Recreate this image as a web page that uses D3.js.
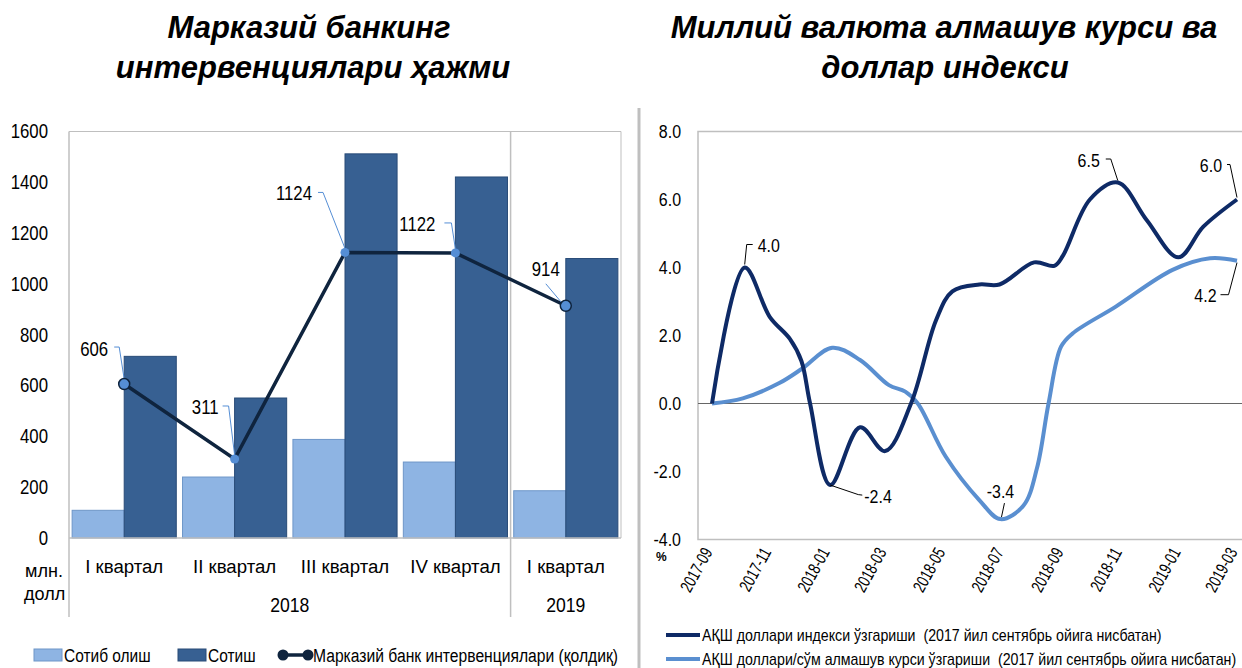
<!DOCTYPE html>
<html>
<head>
<meta charset="utf-8">
<script src="https://cdn.jsdelivr.net/npm/d3@7"></script>
<style>
    body { margin: 0; background: #fff; }
    svg text { font-family: "Liberation Sans", Arial, sans-serif; fill: #000; }
</style>
</head>
<body>
<svg id="chart" width="1242" height="668"></svg>
<script>
// ---- данные: интервенции (млн. долл)
const quarters = ['I квартал', 'II квартал', 'III квартал', 'IV квартал', 'I квартал'];
const years = [{ name: '2018', from: 0, to: 3 }, { name: '2019', from: 4, to: 4 }];
const buying = [109, 240, 388, 299, 186];
const selling = [715, 551, 1512, 1421, 1100];
const netInterv = [606, 311, 1124, 1122, 914];
const leftTicks = [0, 200, 400, 600, 800, 1000, 1200, 1400, 1600];

// ---- данные: индекс доллара и курс (%)
const monthTicks = ['2017-09', '2017-11', '2018-01', '2018-03', '2018-05', '2018-07', '2018-09', '2018-11', '2019-01', '2019-03'];
const dxyDates = ['2017-09-01', '2017-10-05', '2017-10-31', '2017-11-21', '2017-12-03', '2017-12-12', '2018-01-02', '2018-02-02',
    '2018-02-28', '2018-03-27', '2018-04-22', '2018-05-09', '2018-06-06', '2018-06-27', '2018-08-02', '2018-08-23',
    '2018-09-01', '2018-09-29', '2018-10-28', '2018-11-27', '2018-12-30', '2019-01-25', '2019-03-01'];
const dxyValues = [0.0, 4.0, 2.55, 1.9, 1.25, 0.0, -2.4, -0.7,
    -1.4, 0.0, 2.45, 3.3, 3.5, 3.5, 4.15, 4.05,
    4.35, 6.0, 6.5, 5.4, 4.3, 5.2, 6.0];
const uzsDates = ['2017-09-01', '2017-10-03', '2017-11-10', '2017-12-04', '2018-01-04', '2018-02-02', '2018-03-04', '2018-03-21',
    '2018-04-03', '2018-05-02', '2018-06-06', '2018-06-28', '2018-07-22', '2018-08-05', '2018-08-17', '2018-08-30',
    '2018-09-11', '2018-10-26', '2018-12-24', '2019-02-01', '2019-03-01'];
const uzsValues = [0.0, 0.15, 0.6, 1.03, 1.64, 1.28, 0.54, 0.35,
    0.0, -1.56, -2.84, -3.4, -3.0, -1.9, 0.0, 1.67,
    2.06, 2.85, 3.93, 4.27, 4.2];
const rightTicks = [-4, -2, 0, 2, 4, 6, 8];

const svg = d3.select('#chart');

// узкий шрифт: сжимаем текст по горизонтали через transform
const squeeze = (sel, k) => {
    sel.each(function () {
        let t = d3.select(this);
        let x = +t.attr('x') || 0, y = +t.attr('y') || 0;
        let prev = t.attr('transform') || '';
        t.attr('x', 0).attr('y', 0).attr('transform', `${prev} translate(${x},${y}) scale(${k},1)`);
    });
};

// ---- заголовки
const titleL = svg.append('text').attr('text-anchor', 'middle')
    .style('font-size', '31px').style('font-weight', 'bold').style('font-style', 'italic');
titleL.append('tspan').attr('x', 309).attr('y', 38).text('Марказий банкинг');
titleL.append('tspan').attr('x', 313).attr('y', 78).text('интервенциялари ҳажми');
const titleR = svg.append('text').attr('text-anchor', 'middle')
    .style('font-size', '31px').style('font-weight', 'bold').style('font-style', 'italic');
titleR.append('tspan').attr('x', 944).attr('y', 38).text('Миллий валюта алмашув курси ва');
titleR.append('tspan').attr('x', 945).attr('y', 78).text('доллар индекси');

// разделитель между графиками
svg.append('line').attr('x1', 639).attr('x2', 639).attr('y1', 108).attr('y2', 668)
    .attr('stroke', '#BFBFBF').attr('stroke-width', 3);

// ================= левый график
const left = svg.append('g').attr('id', 'left_warp');
const xL = d3.scaleBand().domain(d3.range(quarters.length)).range([69, 621]);
const xSub = d3.scaleBand().domain(['buy', 'sell']).range([0, xL.bandwidth()]).paddingOuter(0.06);
const yL = d3.scaleLinear().domain([0, 1600]).range([538, 131.5]);
const gridColor = '#BFBFBF';

// рамка
left.append('line').attr('x1', 69).attr('x2', 621).attr('y1', yL(1600)).attr('y2', yL(1600)).attr('stroke', gridColor);
left.append('line').attr('x1', 621).attr('x2', 621).attr('y1', yL(1600)).attr('y2', yL(0)).attr('stroke', gridColor);
[0, 4].forEach(i => {
    left.append('line').attr('x1', xL(i)).attr('x2', xL(i)).attr('y1', yL(1600)).attr('y2', 617)
        .attr('stroke', gridColor).attr('stroke-width', 1.5);
});

// столбцы
const barG = left.append('g').attr('class', 'bar_warp');
barG.selectAll('.buy').data(buying).enter().append('rect')
    .attr('class', 'buy')
    .attr('x', (d, i) => xL(i) + xSub('buy'))
    .attr('y', d => yL(d))
    .attr('width', xSub.bandwidth())
    .attr('height', d => yL(0) - yL(d))
    .attr('fill', '#8EB4E3').attr('stroke', '#6E96C8').attr('stroke-width', 1);
barG.selectAll('.sell').data(selling).enter().append('rect')
    .attr('class', 'sell')
    .attr('x', (d, i) => xL(i) + xSub('sell'))
    .attr('y', d => yL(d))
    .attr('width', xSub.bandwidth())
    .attr('height', d => yL(0) - yL(d))
    .attr('fill', '#376092').attr('stroke', '#284B77').attr('stroke-width', 1);

left.append('line').attr('x1', 69).attr('x2', 621).attr('y1', yL(0)).attr('y2', yL(0)).attr('stroke', gridColor).attr('stroke-width', 1.5);

// линия нетто-интервенций
const cx = i => xL(i) + xL.bandwidth() / 2;
left.append('path').datum(netInterv)
    .attr('d', d3.line().x((d, i) => cx(i)).y(d => yL(d)))
    .attr('fill', 'none').attr('stroke', '#0F243E').attr('stroke-width', 3.5);

// подписи значений: смещение текста и выноски
const netLabelPos = [
    { tx: -16, ty: -28, lead: [[-10, -37], [-5, -37], [0, -5]] },
    { tx: -16, ty: -45, lead: [[-12, -53], [-6, -53], [0, -4]] },
    { tx: -33, ty: -52, lead: [[-27, -60], [-22, -60], [0, -4]] },
    { tx: -20, ty: -22, lead: [[-11, -30], [-4, -30], [0, -4]] },
    { tx: -6, ty: -30, lead: [[-20, -22], [-4, -3]] }
];
netInterv.forEach((v, i) => {
    let p = netLabelPos[i];
    left.append('path')
        .attr('d', d3.line()(p.lead.map(q => [cx(i) + q[0], yL(v) + q[1]])))
        .attr('fill', 'none').attr('stroke', '#558ED5').attr('stroke-width', 1);
});
left.selectAll('.dot').data(netInterv).enter().append('circle')
    .attr('class', 'dot')
    .attr('cx', (d, i) => cx(i)).attr('cy', d => yL(d))
    .attr('r', (d, i) => (i === 0 || i === 4) ? 5.5 : 4.5)
    .attr('fill', '#558ED5')
    .attr('stroke', '#0F243E').attr('stroke-width', (d, i) => (i === 0 || i === 4) ? 1.5 : 0);
left.selectAll('.val').data(netInterv).enter().append('text')
    .attr('class', 'val')
    .attr('x', (d, i) => cx(i) + netLabelPos[i].tx)
    .attr('y', (d, i) => yL(d) + netLabelPos[i].ty)
    .attr('text-anchor', 'end')
    .style('font-size', '20px')
    .text(d => d)
    .call(squeeze, 0.84);

// ось Y
const yAxisL = left.append('g').attr('transform', 'translate(48,0)')
    .call(d3.axisLeft(yL).tickValues(leftTicks).tickSize(0).tickPadding(0).tickFormat(d3.format('d')));
yAxisL.select('.domain').remove();
yAxisL.selectAll('text').style('font-size', '20px').style('font-family', '"Liberation Sans", Arial, sans-serif')
    .attr('fill', '#000').call(squeeze, 0.84);

// подписи категорий
left.selectAll('.cat').data(quarters).enter().append('text')
    .attr('class', 'cat')
    .attr('x', (d, i) => cx(i)).attr('y', 572.5)
    .attr('text-anchor', 'middle').style('font-size', '19px')
    .text(d => d).call(squeeze, 0.98);
left.selectAll('.year').data(years).enter().append('text')
    .attr('class', 'year')
    .attr('x', d => (xL(d.from) + xL(d.to) + xL.bandwidth()) / 2).attr('y', 611.5)
    .attr('text-anchor', 'middle').style('font-size', '21px')
    .text(d => d.name).call(squeeze, 0.84);
left.append('text').attr('x', 25).attr('y', 577).style('font-size', '19px').text('млн.').call(squeeze, 0.95);
left.append('text').attr('x', 24).attr('y', 600).style('font-size', '19px').text('долл').call(squeeze, 0.95);

// легенда слева
const legL = left.append('g').attr('class', 'legend');
legL.append('rect').attr('x', 34).attr('y', 649).attr('width', 28).attr('height', 12)
    .attr('fill', '#8EB4E3').attr('stroke', '#6E96C8');
legL.append('text').attr('x', 64).attr('y', 662).style('font-size', '18px').text('Сотиб олиш').call(squeeze, 0.86);
legL.append('rect').attr('x', 178).attr('y', 649).attr('width', 28).attr('height', 12)
    .attr('fill', '#376092').attr('stroke', '#284B77');
legL.append('text').attr('x', 208).attr('y', 662).style('font-size', '18px').text('Сотиш').call(squeeze, 0.86);
legL.append('line').attr('x1', 283).attr('x2', 308).attr('y1', 655).attr('y2', 655)
    .attr('stroke', '#0F243E').attr('stroke-width', 3.5);
[283, 308].forEach(x => {
    legL.append('circle').attr('cx', x).attr('cy', 655).attr('r', 5.5).attr('fill', '#0F243E');
});
legL.append('text').attr('x', 313).attr('y', 662).style('font-size', '18px')
    .text('Марказий банк интервенциялари (қолдиқ)').call(squeeze, 0.87);

// ================= правый график
const right = svg.append('g').attr('id', 'right_warp');
const parseDay = d3.timeParse('%Y-%m-%d');
const parseMonth = d3.timeParse('%Y-%m');
const xR = d3.scaleTime().domain([parseMonth('2017-09'), parseMonth('2019-03')]).range([712, 1237]);
const yR = d3.scaleLinear().domain([-4, 8]).range([539.5, 131.5]);

// рамка: слева, сверху, снизу
right.append('path')
    .attr('d', `M1242,${yR(8)}H698V${yR(-4)}H1242`)
    .attr('fill', 'none').attr('stroke', gridColor).attr('stroke-width', 1.5);
right.append('line').attr('x1', 698).attr('x2', 1242).attr('y1', yR(0)).attr('y2', yR(0))
    .attr('stroke', '#666').attr('stroke-width', 1);

const dxy = dxyDates.map((d, i) => ({ date: parseDay(d), value: dxyValues[i] }));
const uzs = uzsDates.map((d, i) => ({ date: parseDay(d), value: uzsValues[i] }));
const lineR = d3.line().curve(d3.curveCatmullRom.alpha(0.5)).x(d => xR(d.date)).y(d => yR(d.value));
right.append('path').datum(uzs).attr('d', lineR)
    .attr('fill', 'none').attr('stroke', '#5A8FD0').attr('stroke-width', 4);
right.append('path').datum(dxy).attr('d', lineR)
    .attr('fill', 'none').attr('stroke', '#0E2A66').attr('stroke-width', 4);

// ось Y
const yAxisR = right.append('g').attr('transform', 'translate(681,0)')
    .call(d3.axisLeft(yR).tickValues(rightTicks).tickSize(0).tickPadding(0).tickFormat(d3.format('.1f')));
yAxisR.select('.domain').remove();
yAxisR.selectAll('text').style('font-size', '19px').style('font-family', '"Liberation Sans", Arial, sans-serif')
    .attr('fill', '#000').text(d => d3.format('.1f')(d).replace('−', '-')).call(squeeze, 0.84);
right.append('text').attr('x', 656).attr('y', 561).style('font-size', '12px').style('font-weight', 'bold').text('%');

// ось X (повёрнутые подписи)
right.selectAll('.xlab').data(monthTicks).enter().append('text')
    .attr('class', 'xlab')
    .attr('text-anchor', 'end')
    .attr('transform', d => `translate(${xR(parseMonth(d)) + 1}, 552) rotate(-61) scale(0.74,1)`)
    .style('font-size', '17.5px')
    .text(d => d);

// подписи значений
const rLabels = [
    { s: dxy, i: 1, anchor: 'start', tx: 13, ty: -16, lead: [[0, -3], [2, -23], [8, -23]] },
    { s: dxy, i: 6, anchor: 'start', tx: 34, ty: 18, lead: [[0, 0], [28, 9.5], [32, 10]] },
    { s: dxy, i: 18, anchor: 'end', tx: -18, ty: -16, lead: [[-12, -23.5], [-7, -23.5], [0, -2]] },
    { s: dxy, i: 22, anchor: 'end', tx: -15, ty: -27.5, lead: [[-10, -35], [-7, -35], [0, -2]] },
    { s: uzs, i: 11, anchor: 'middle', tx: 0, ty: -21, lead: [[1, -2], [4, -16]] },
    { s: uzs, i: 20, anchor: 'end', tx: -20.5, ty: 41, lead: [[-16.5, 34], [-8.5, 34], [0, 2]] }
];
rLabels.forEach(l => {
    let d = l.s[l.i];
    let px = xR(d.date), py = yR(d.value);
    right.append('path').attr('d', d3.line()(l.lead.map(q => [px + q[0], py + q[1]])))
        .attr('fill', 'none').attr('stroke', '#000').attr('stroke-width', 1);
    right.append('text').attr('x', px + l.tx).attr('y', py + l.ty)
        .attr('text-anchor', l.anchor).style('font-size', '19px')
        .text(d3.format('.1f')(d.value).replace('−', '-')).call(squeeze, 0.84);
});

// легенда справа
const legR = right.append('g').attr('class', 'legend');
const legItems = [
    { name: 'АҚШ доллари индекси ўзгариши  (2017 йил сентябрь ойига нисбатан)', color: '#0E2A66' },
    { name: 'АҚШ доллари/сўм алмашув курси ўзгариши  (2017 йил сентябрь ойига нисбатан)', color: '#5A8FD0' }
];
legItems.forEach((item, i) => {
    let y = 635 + i * 24;
    legR.append('line').attr('x1', 666).attr('x2', 700).attr('y1', y).attr('y2', y)
        .attr('stroke', item.color).attr('stroke-width', 4);
    legR.append('text').attr('x', 702).attr('y', y + 6).style('font-size', '17px').style('white-space', 'pre')
        .text(item.name).call(squeeze, 0.835);
});
</script>
</body>
</html>
